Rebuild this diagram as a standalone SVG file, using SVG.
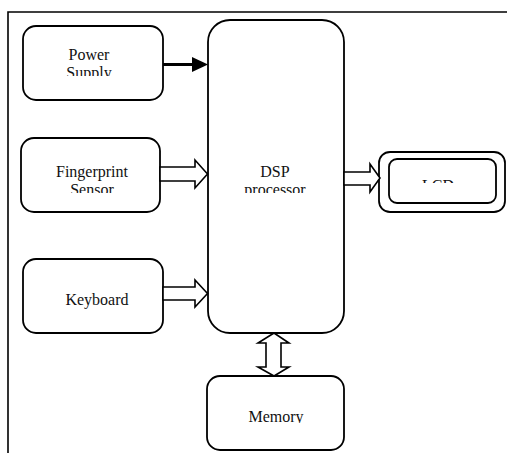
<svg xmlns="http://www.w3.org/2000/svg" width="507" height="453" viewBox="0 0 507 453">
  <style>
    .box { fill: #ffffff; stroke: #000000; stroke-width: 1.8; }
    .frame { fill: none; stroke: #000000; stroke-width: 1.6; }
    .lbl { font-size: 16px; fill: #111111; text-anchor: middle; }
    .block { fill: #ffffff; stroke: #000000; stroke-width: 1.6; stroke-linejoin: miter; }
  </style>
  <defs>
    <clipPath id="clipPower"><rect x="20" y="20" width="150" height="56"/></clipPath>
    <clipPath id="clipFinger"><rect x="20" y="140" width="150" height="53"/></clipPath>
    <clipPath id="clipDsp"><rect x="210" y="150" width="130" height="43"/></clipPath>
    <clipPath id="clipLcd"><rect x="390" y="160" width="100" height="23"/></clipPath>
    <clipPath id="clipMem"><rect x="210" y="390" width="130" height="33"/></clipPath>
  </defs>

  <rect width="507" height="453" fill="#ffffff"/>

  <!-- outer frame: top and left edges only -->
  <path class="frame" d="M8,453 L8,12 L507,12"/>

  <g font-family="'Liberation Serif', 'DejaVu Serif', 'Times New Roman', serif">
    <g id="power-supply">
      <rect class="box" x="23" y="26" width="140" height="74" rx="13"/>
      <g clip-path="url(#clipPower)">
        <text class="lbl" x="89" y="60">Power</text>
        <text class="lbl" x="89" y="78">Supply</text>
      </g>
    </g>

    <g id="fingerprint-sensor">
      <rect class="box" x="21" y="138" width="139" height="74" rx="13"/>
      <g clip-path="url(#clipFinger)">
        <text class="lbl" x="92" y="177">Fingerprint</text>
        <text class="lbl" x="92" y="195">Sensor</text>
      </g>
    </g>

    <g id="keyboard">
      <rect class="box" x="23" y="259" width="140" height="74" rx="13"/>
      <text class="lbl" x="97" y="305">Keyboard</text>
    </g>

    <g id="dsp-processor">
      <rect class="box" x="208" y="20" width="136" height="313" rx="22"/>
      <g clip-path="url(#clipDsp)">
        <text class="lbl" x="275" y="177">DSP</text>
        <text class="lbl" x="275" y="195">processor</text>
      </g>
    </g>

    <g id="lcd">
      <rect class="box" x="379" y="152" width="126" height="60" rx="11"/>
      <rect class="box" x="389" y="159" width="107" height="44" rx="8"/>
      <g clip-path="url(#clipLcd)">
        <text class="lbl" x="438" y="191">LCD</text>
      </g>
    </g>

    <g id="memory">
      <rect class="box" x="207" y="376" width="137" height="74" rx="13"/>
      <g clip-path="url(#clipMem)">
        <text class="lbl" x="276" y="422">Memory</text>
      </g>
    </g>
  </g>

  <g id="connectors">
    <!-- power feed: solid line with filled head -->
    <line x1="163" y1="64.5" x2="194" y2="64.5" stroke="#000000" stroke-width="3"/>
    <polygon points="192,57 208,64.5 192,72" fill="#000000"/>
    <!-- hollow block arrows -->
    <polygon class="block" points="160,167 195,167 195,160 207.5,174 195,188 195,181 160,181"/>
    <polygon class="block" points="163,287 195,287 195,280 207.5,293.5 195,307 195,300 163,300"/>
    <polygon class="block" points="344,172 370,172 370,164 380,178 370,192 370,185 344,185"/>
    <!-- two-way bus between processor and memory -->
    <polygon class="block" points="274,333 289,343 281,343 281,367 289,367 274,376 258,367 266,367 266,343 258,343"/>
  </g>
</svg>
